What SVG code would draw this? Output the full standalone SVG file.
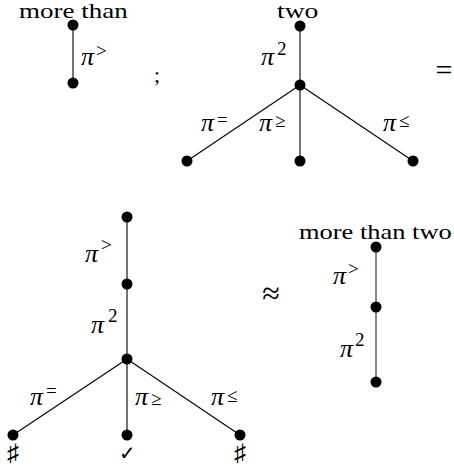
<svg xmlns="http://www.w3.org/2000/svg" width="454" height="471" viewBox="0 0 454 471">
<style>
.bg{fill:#fff}
.e{stroke:#000;stroke-width:1.1;fill:none}
.eg{stroke:#555;stroke-width:1.4;fill:none}
.n{fill:#000}
.pi{font-style:italic;font-size:26px;fill:#000}
.sup{font-size:19px;fill:#000}
</style>
<rect class="bg" x="0" y="0" width="454" height="471"/>
<g id="connectors">
<line class="e" x1="73" y1="25" x2="73" y2="83"/>
<line class="e" x1="300" y1="26" x2="300" y2="85"/>
<line class="e" x1="300" y1="85" x2="187" y2="161"/>
<line class="e" x1="300" y1="85" x2="300" y2="161"/>
<line class="e" x1="300" y1="85" x2="413" y2="161"/>
<line class="e" x1="127" y1="217" x2="127" y2="284"/>
<line class="e" x1="127" y1="284" x2="127" y2="359"/>
<line class="e" x1="127" y1="359" x2="13" y2="435"/>
<line class="e" x1="127" y1="359" x2="127" y2="435"/>
<line class="e" x1="127" y1="359" x2="240" y2="435"/>
<line class="eg" x1="376" y1="247" x2="376" y2="307"/>
<line class="eg" x1="376" y1="307" x2="376" y2="382"/>
</g>
<g id="edge-labels" font-family="Liberation Serif, serif">
<text><tspan class="pi" x="81" y="65">π</tspan><tspan class="sup" x="96" y="57">&gt;</tspan></text>
<text><tspan class="pi" x="261" y="65">π</tspan><tspan class="sup" x="277" y="55">2</tspan></text>
<text><tspan class="pi" x="201" y="131">π</tspan><tspan class="sup" x="217" y="126">=</tspan></text>
<text><tspan class="pi" x="259" y="131">π</tspan><tspan class="sup" x="275" y="127">≥</tspan></text>
<text><tspan class="pi" x="383" y="131">π</tspan><tspan class="sup" x="399" y="127">≤</tspan></text>
<text><tspan class="pi" x="85" y="262">π</tspan><tspan class="sup" x="101" y="251">&gt;</tspan></text>
<text><tspan class="pi" x="91" y="333">π</tspan><tspan class="sup" x="108" y="322">2</tspan></text>
<text><tspan class="pi" x="30" y="405">π</tspan><tspan class="sup" x="46" y="397">=</tspan></text>
<text><tspan class="pi" x="135" y="405">π</tspan><tspan class="sup" x="151" y="405">≥</tspan></text>
<text><tspan class="pi" x="211" y="405">π</tspan><tspan class="sup" x="227" y="402">≤</tspan></text>
<text><tspan class="pi" x="333" y="284">π</tspan><tspan class="sup" x="348" y="275">&gt;</tspan></text>
<text><tspan class="pi" x="340" y="357">π</tspan><tspan class="sup" x="355" y="346">2</tspan></text>
</g>
<g id="node-a1"><circle class="n" cx="73" cy="25" r="5.5"/><text font-family="Liberation Serif, serif" font-size="20" transform="translate(19,18) scale(1.35,1)">more than</text></g>
<g id="node-a2"><circle class="n" cx="73" cy="83" r="5.5"/></g>
<g id="node-b1"><circle class="n" cx="300" cy="26" r="5.5"/><text font-family="Liberation Serif, serif" font-size="20" transform="translate(277,18) scale(1.38,1)">two</text></g>
<g id="node-b2"><circle class="n" cx="300" cy="85" r="5.5"/></g>
<g id="node-b3"><circle class="n" cx="187" cy="161" r="5.5"/></g>
<g id="node-b4"><circle class="n" cx="300" cy="161" r="5.5"/></g>
<g id="node-b5"><circle class="n" cx="413" cy="161" r="5.5"/></g>
<g id="node-c1"><circle class="n" cx="127" cy="217" r="5.5"/></g>
<g id="node-c2"><circle class="n" cx="127" cy="284" r="5.5"/></g>
<g id="node-c3"><circle class="n" cx="127" cy="359" r="5.5"/></g>
<g id="node-c4"><circle class="n" cx="13" cy="435" r="5.5"/><text font-family="Liberation Serif, serif" x="13" y="461" font-size="24" text-anchor="middle">♯</text></g>
<g id="node-c5"><circle class="n" cx="127" cy="435" r="5.5"/><text font-family="Liberation Serif, serif" x="127" y="460" font-size="20" text-anchor="middle">✓</text></g>
<g id="node-c6"><circle class="n" cx="240" cy="435" r="5.5"/><text font-family="Liberation Serif, serif" x="240" y="461" font-size="24" text-anchor="middle">♯</text></g>
<g id="node-d1"><circle class="n" cx="376" cy="247" r="5.5"/><text font-family="Liberation Serif, serif" font-size="21" transform="translate(299,239) scale(1.26,1)">more than two</text></g>
<g id="node-d2"><circle class="n" cx="376" cy="307" r="5.5"/></g>
<g id="node-d3"><circle class="n" cx="376" cy="382" r="5.5"/></g>
<g id="operators" font-family="Liberation Serif, serif">
<text x="157" y="82" font-size="22" text-anchor="middle">;</text>
<text x="444" y="80" font-size="30" text-anchor="middle">=</text>
<text x="271" y="304" font-size="32" text-anchor="middle">≈</text>
</g>
</svg>
